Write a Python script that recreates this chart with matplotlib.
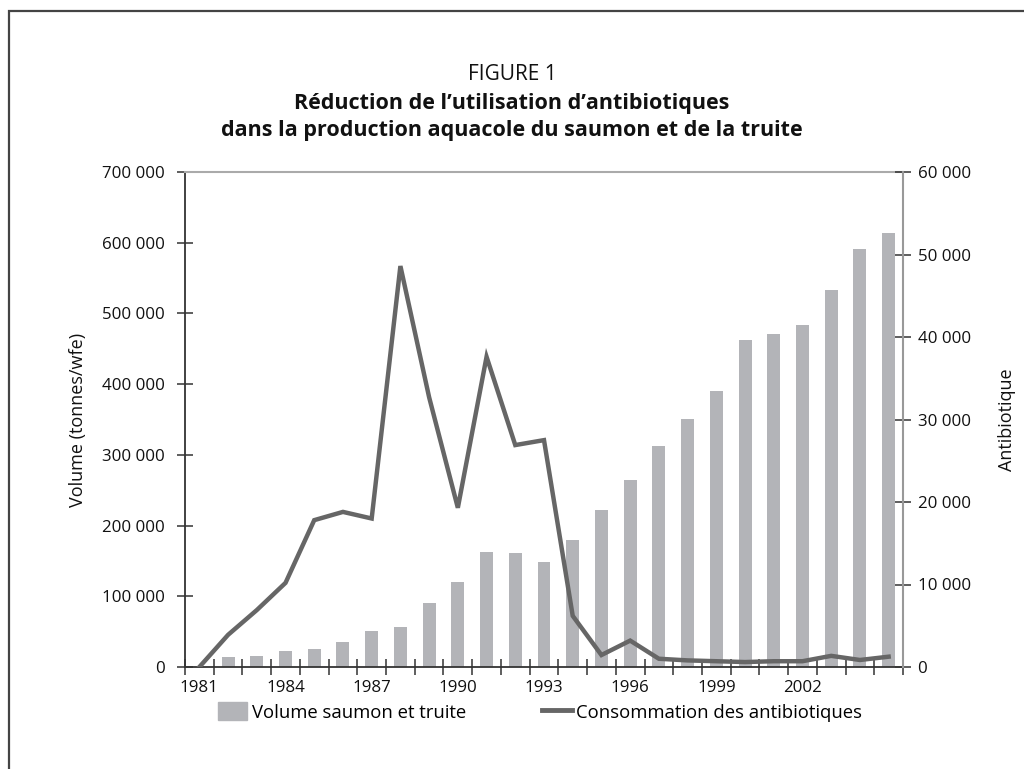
import matplotlib
matplotlib.use("Agg")
import matplotlib.pyplot as plt
from matplotlib.ticker import FuncFormatter, FixedLocator
from matplotlib.patches import Rectangle
from matplotlib.lines import Line2D

plt.rcParams['font.family'] = ['Open Sans', 'DejaVu Sans']

years = list(range(1981, 2006))
volume = [0, 14500, 16000, 23000, 26000, 36000, 51000, 57000, 91000, 120000,
          163000, 161000, 148500, 180000, 222000, 264000, 312000, 351000, 391000,
          462000, 471000, 484000, 533000, 591000, 614000]
antibiotics = [0, 3900, 6900, 10200, 17800, 18800, 18000, 48600, 32700, 19300,
               37600, 26900, 27500, 6200, 1450, 3200, 1000, 800, 700, 600,
               700, 700, 1350, 850, 1250]
year_labels = ['1981', '1984', '1987', '1990', '1993', '1996', '1999', '2002']

title_top = "FIGURE 1"
title_main = "Réduction de l’utilisation d’antibiotiques\ndans la production aquacole du saumon et de la truite"
left_label = "Volume (tonnes/wfe)"
right_label = "Antibiotique"
bar_name = "Volume saumon et truite"
line_name = "Consommation des antibiotiques"

bar_color = '#b3b4b8'
line_color = '#666666'
dark = '#333333'
text_color = '#111111'
fs = 12.2

fig = plt.figure(figsize=(10.24, 7.69), dpi=100)
W, H = 1024, 769

# outer frame
fig.patches.append(Rectangle((9 / W, -0.1), 1.2, 1 - 11 / H + 0.1,
                             transform=fig.transFigure, fill=False,
                             edgecolor='#444444', linewidth=1.6))

ax = fig.add_axes([185 / W, 1 - 667 / H, (903 - 185) / W, (667 - 172) / H])
x = list(range(len(years)))
ax.bar(x, volume, width=0.45, color=bar_color, zorder=2)
ax.set_xlim(-0.5, len(years) - 0.5)
ax.set_ylim(0, 700000)
ax.yaxis.set_major_locator(FixedLocator(range(0, 700001, 100000)))
fmt = FuncFormatter(lambda v, p: f"{int(v):,}".replace(",", " "))
ax.yaxis.set_major_formatter(fmt)

label_pos = [years.index(int(s)) for s in year_labels]
ax.set_xticks(label_pos)
ax.set_xticklabels(year_labels)
ax.set_xticks([i - 0.5 for i in range(len(years) + 1)], minor=True)
ax.tick_params(axis='x', which='major', length=0, pad=9, labelsize=fs, colors=text_color)
ax.tick_params(axis='x', which='minor', direction='inout', length=12, width=1.1, color=dark)
ax.tick_params(axis='y', which='major', direction='inout', length=11, width=1.1, color=dark,
               pad=9, labelsize=fs, labelcolor=text_color)

for side in ['left', 'bottom']:
    ax.spines[side].set_color(dark)
    ax.spines[side].set_linewidth(1.3)
ax.spines['top'].set_color('#aaaaaa')
ax.spines['top'].set_linewidth(1.5)
ax.spines['right'].set_visible(False)
ax.set_ylabel(left_label, fontsize=13, labelpad=11, color=text_color)

ax2 = ax.twinx()
ax2.plot(x, antibiotics, color=line_color, linewidth=3.2, solid_joinstyle='miter', zorder=3)
ax2.set_ylim(0, 60000)
ax2.yaxis.set_major_locator(FixedLocator(range(0, 60001, 10000)))
ax2.yaxis.set_major_formatter(fmt)
ax2.tick_params(axis='y', direction='inout', length=11, width=1.1, color=dark,
                pad=5, labelsize=fs, labelcolor=text_color)
ax2.spines['right'].set_color('#999999')
ax2.spines['right'].set_linewidth(1.5)
for side in ['left', 'top', 'bottom']:
    ax2.spines[side].set_visible(False)
ax2.set_ylabel(right_label, fontsize=13, labelpad=20, color=text_color)

fig.text(0.5, 1 - 75 / H, title_top, ha='center', va='center', fontsize=15, color=text_color)
fig.text(0.5, 1 - 117 / H, title_main, ha='center', va='center', fontsize=15.5,
         fontweight='bold', linespacing=1.35, color=text_color)

handles = [Rectangle((0, 0), 1, 1, color=bar_color),
           Line2D([0], [0], color=line_color, linewidth=3.5)]
fig.legend(handles, [bar_name, line_name], loc='center', bbox_to_anchor=(540 / W, 1 - 712 / H),
           ncol=2, frameon=False, fontsize=13.3, handlelength=1.6, handletextpad=0.25,
           columnspacing=4.1, handleheight=1.1)

fig.savefig('out.png', dpi=100)
